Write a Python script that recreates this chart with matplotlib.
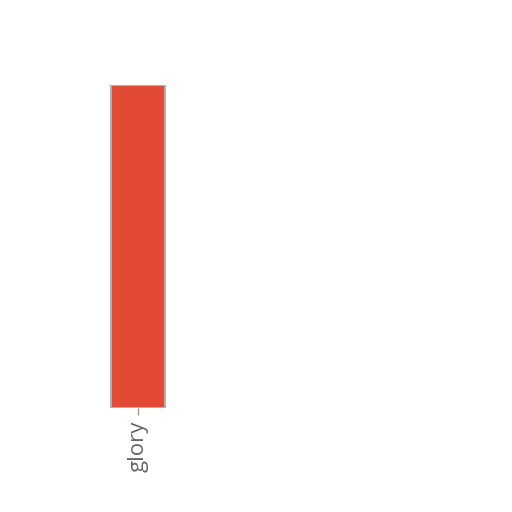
import matplotlib
matplotlib.use("Agg")
import matplotlib.pyplot as plt

categories = ["glory"]
values = [1.0]

fig = plt.figure(figsize=(5.12, 5.12), dpi=100)
# axes placed in pixel terms: left 97.5px, bottom at y=408px, top at y=85px
ax = fig.add_axes([97.5 / 512, (512 - 408) / 512, 400 / 512, (408 - 85) / 512])

ax.bar(range(len(categories)), values, width=0.8, color="#E24A33",
       edgecolor="#b0b0b0", linewidth=1.5)

ax.set_xlim(-0.6, 5.33)
ax.set_ylim(0, 1.0)
ax.set_xticks(range(len(categories)))
ax.set_xticklabels(categories, rotation=90, fontsize=16, color="#666666",
                   family=["Open Sans", "DejaVu Sans"])
ax.tick_params(axis="x", length=5, width=1, color="#999999", pad=4)
ax.set_yticks([])
for s in ax.spines.values():
    s.set_visible(False)

fig.savefig("out.png", dpi=100, facecolor="white")
